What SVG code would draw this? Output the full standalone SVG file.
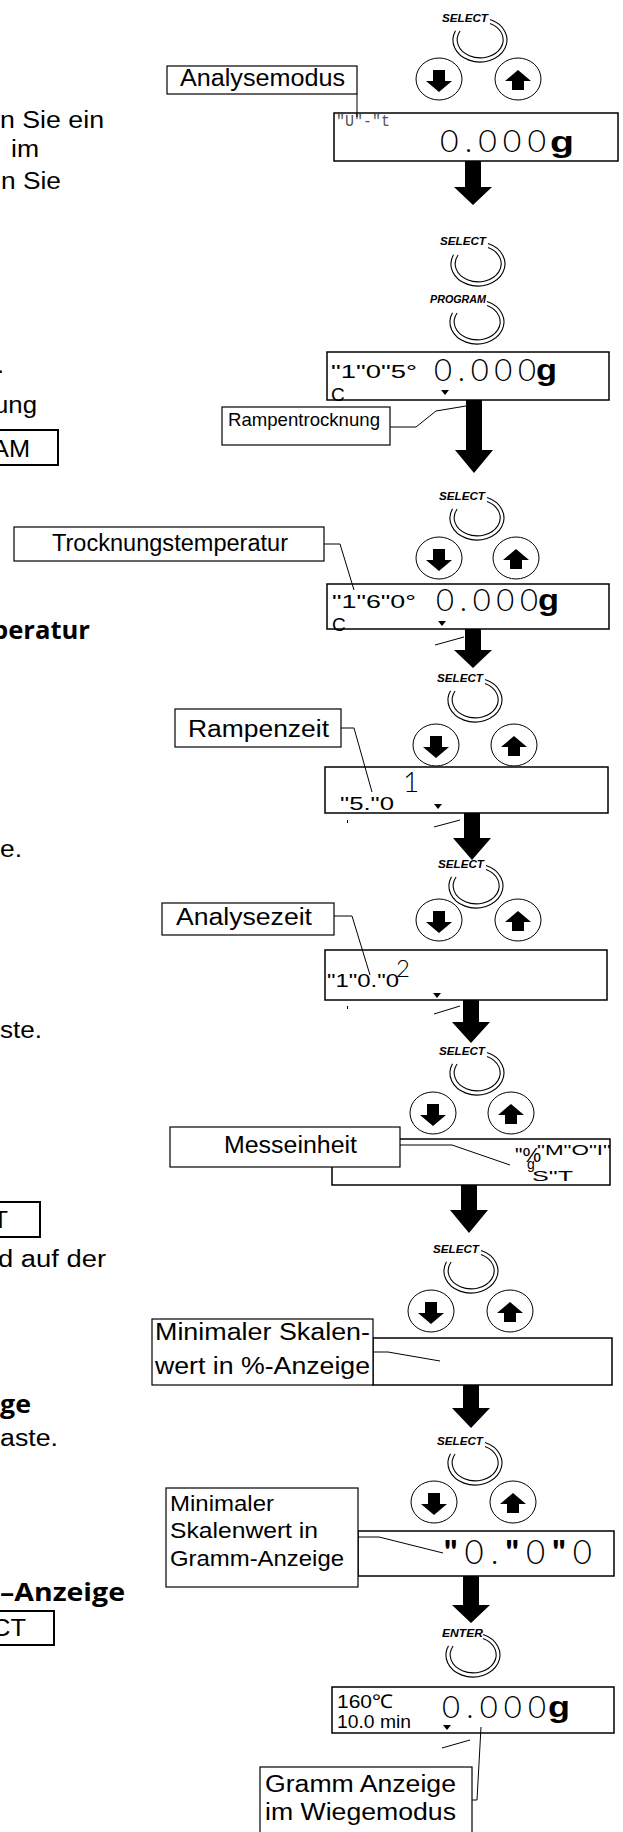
<svg xmlns="http://www.w3.org/2000/svg" xmlns:xlink="http://www.w3.org/1999/xlink" width="623" height="1832" viewBox="0 0 623 1832">
<style>
.t{font-family:"Liberation Sans",Arial,sans-serif;font-size:23px;fill:#000}
.l{font-family:"Liberation Sans",Arial,sans-serif;font-size:23px;fill:#000}
.hb{font-family:"Open Sans","Noto Sans",sans-serif;font-weight:700;font-size:25px;fill:#000}
.key{font-family:"Liberation Sans",Arial,sans-serif;font-size:10px;font-weight:700;font-style:italic;fill:#000}
.dig{font-family:Lato,"Liberation Sans",sans-serif;font-weight:300;fill:#000}
.mono{font-family:"Liberation Mono","Courier New",monospace;fill:#000}
.ds{font-family:"Liberation Sans",Arial,sans-serif;font-size:19px;fill:#000}
.gb{font-family:"Liberation Sans",Arial,sans-serif;font-weight:700;font-size:29px;fill:#000}
.box{fill:#fff;stroke:#000;stroke-width:1.2}
.disp{fill:#fff;stroke:#000;stroke-width:1.5}
.ln{fill:none;stroke:#000;stroke-width:1}
.ring{fill:none;stroke:#000;stroke-width:1.1}
.btn{fill:#fff;stroke:#000;stroke-width:1}
.lb{fill:none;stroke:#000;stroke-width:2}
.big{fill:#000}
</style>
<defs>
<g id="ring">
<path class="ring" d="M10,-20.4 A27,22 0 1 1 -24.5,-9.3"/>
<path class="ring" d="M10,-16.5 A23,18 0 1 1 -19.9,-9"/>
</g>
<g id="bdown"><ellipse rx="23" ry="21" class="btn"/><path d="M-6,-9H6V2H13L0,13L-13,2H-6Z"/></g>
<g id="bup"><ellipse rx="23" ry="21" class="btn"/><path d="M0,-9L13,2H6V11H-6V2H-13Z"/></g>
<path id="tri" d="M-4,0H4L0,5Z"/>
</defs>

<g id="left-text">
<text class="t" x="0" y="128" textLength="104" lengthAdjust="spacingAndGlyphs">n Sie ein</text>
<text class="t" x="11" y="157" textLength="28" lengthAdjust="spacingAndGlyphs">im</text>
<text class="t" x="1" y="189" textLength="60" lengthAdjust="spacingAndGlyphs">n Sie</text>
<text class="t" x="-3" y="373" textLength="7" lengthAdjust="spacingAndGlyphs">.</text>
<text class="t" x="-6" y="413" textLength="43" lengthAdjust="spacingAndGlyphs">ung</text>
<rect class="lb" x="-5" y="430" width="63" height="35"/>
<text class="t" x="-8" y="457" textLength="38" lengthAdjust="spacingAndGlyphs">AM</text>
<text class="hb" x="-8" y="639" textLength="98" lengthAdjust="spacingAndGlyphs">peratur</text>
<text class="t" x="0" y="857" textLength="22" lengthAdjust="spacingAndGlyphs">e.</text>
<text class="t" x="0" y="1038" textLength="42" lengthAdjust="spacingAndGlyphs">ste.</text>
<rect class="lb" x="-5" y="1202" width="45" height="35"/>
<text class="t" x="-7" y="1228" textLength="15" lengthAdjust="spacingAndGlyphs">T</text>
<text class="t" x="-2" y="1267" textLength="108" lengthAdjust="spacingAndGlyphs">d auf der</text>
<text class="hb" x="0" y="1413" textLength="31" lengthAdjust="spacingAndGlyphs">ge</text>
<text class="t" x="0" y="1446" textLength="58" lengthAdjust="spacingAndGlyphs">aste.</text>
<text class="hb" x="0" y="1601" textLength="125" lengthAdjust="spacingAndGlyphs">–Anzeige</text>
<rect class="lb" x="-5" y="1611" width="59" height="34"/>
<text class="t" x="-8" y="1636" textLength="34" lengthAdjust="spacingAndGlyphs">CT</text>
</g>

<g id="step1">
<text class="key" x="442" y="22" textLength="46" lengthAdjust="spacingAndGlyphs">SELECT</text>
<use xlink:href="#ring" x="480" y="40"/>
<use xlink:href="#bdown" x="439" y="79"/>
<use xlink:href="#bup" x="518" y="79"/>
<rect class="disp" x="334" y="113" width="284" height="48"/>
<text class="mono" x="336" y="126" font-size="17" style="fill:#555" textLength="54" lengthAdjust="spacingAndGlyphs">"U"-"t</text>
<text class="dig" x="440" y="152" font-size="32" textLength="106" lengthAdjust="spacing">0.000</text>
<text class="gb" x="550" y="152" font-size="30" textLength="24" lengthAdjust="spacingAndGlyphs">g</text>
<rect class="box" x="167" y="66" width="190" height="28"/>
<text class="l" x="180" y="86" textLength="165" lengthAdjust="spacingAndGlyphs">Analysemodus</text>
</g>

<g id="step2">
<text class="key" x="440" y="245" textLength="46" lengthAdjust="spacingAndGlyphs">SELECT</text>
<use xlink:href="#ring" x="478" y="264"/>
<text class="key" x="430" y="303" textLength="56" lengthAdjust="spacingAndGlyphs">PROGRAM</text>
<use xlink:href="#ring" x="477" y="322"/>
<rect class="disp" x="327" y="352" width="282" height="48"/>
<text class="ds" x="331" y="378" textLength="86" lengthAdjust="spacingAndGlyphs">"1"0"5°</text>
<text class="ds" x="331" y="401">C</text>
<text class="dig" x="434" y="381" font-size="31" textLength="102" lengthAdjust="spacing">0.000</text>
<text class="gb" x="536" y="380" textLength="21" lengthAdjust="spacingAndGlyphs">g</text>
<use xlink:href="#tri" x="445" y="390"/>
<rect class="box" x="222" y="407" width="168" height="38"/>
<text class="t" x="228" y="426" style="font-size:19px" textLength="152" lengthAdjust="spacingAndGlyphs">Rampentrocknung</text>
</g>

<g id="step3">
<text class="key" x="439" y="500" textLength="46" lengthAdjust="spacingAndGlyphs">SELECT</text>
<use xlink:href="#ring" x="477" y="518"/>
<use xlink:href="#bdown" x="439" y="558"/>
<use xlink:href="#bup" x="516" y="558"/>
<rect class="disp" x="327" y="584" width="282" height="45"/>
<text class="ds" x="332" y="608" textLength="84" lengthAdjust="spacingAndGlyphs">"1"6"0°</text>
<text class="ds" x="332" y="631">C</text>
<text class="dig" x="436" y="611" font-size="31" textLength="102" lengthAdjust="spacing">0.000</text>
<text class="gb" x="538" y="610" textLength="21" lengthAdjust="spacingAndGlyphs">g</text>
<use xlink:href="#tri" x="442" y="621"/>
<rect class="box" x="14" y="527" width="310" height="34"/>
<text class="l" x="52" y="551" textLength="236" lengthAdjust="spacingAndGlyphs">Trocknungstemperatur</text>
</g>

<g id="step4">
<text class="key" x="437" y="682" textLength="46" lengthAdjust="spacingAndGlyphs">SELECT</text>
<use xlink:href="#ring" x="475" y="700"/>
<use xlink:href="#bdown" x="436" y="745"/>
<use xlink:href="#bup" x="514" y="745"/>
<rect class="disp" x="325" y="767" width="283" height="46"/>
<text class="ds" x="340" y="810" textLength="54" lengthAdjust="spacingAndGlyphs">"5."0</text>
<text class="dig" x="403" y="792" font-size="28">1</text>
<use xlink:href="#tri" x="438" y="804"/>
<rect x="347" y="820" width="1" height="3"/>
<rect class="box" x="175" y="709" width="166" height="38"/>
<text class="l" x="188" y="737" textLength="141" lengthAdjust="spacingAndGlyphs">Rampenzeit</text>
</g>

<g id="step5">
<text class="key" x="438" y="868" textLength="46" lengthAdjust="spacingAndGlyphs">SELECT</text>
<use xlink:href="#ring" x="476" y="886"/>
<use xlink:href="#bdown" x="439" y="920"/>
<use xlink:href="#bup" x="518" y="920"/>
<rect class="disp" x="325" y="950" width="282" height="50"/>
<text class="ds" x="327" y="987" textLength="72" lengthAdjust="spacingAndGlyphs">"1"0."0</text>
<text class="dig" x="396" y="977" font-size="24">2</text>
<use xlink:href="#tri" x="437" y="993"/>
<rect x="347" y="1006" width="1" height="3"/>
<rect class="box" x="162" y="903" width="172" height="32"/>
<text class="l" x="176" y="925" textLength="136" lengthAdjust="spacingAndGlyphs">Analysezeit</text>
</g>

<g id="step6">
<text class="key" x="439" y="1055" textLength="46" lengthAdjust="spacingAndGlyphs">SELECT</text>
<use xlink:href="#ring" x="477" y="1073"/>
<use xlink:href="#bdown" x="433" y="1113"/>
<use xlink:href="#bup" x="511" y="1113"/>
<rect class="disp" x="332" y="1139" width="278" height="46"/>
<text class="t" x="515" y="1162" style="font-size:21px">"%</text>
<text class="ds" x="537" y="1155" style="font-size:15px" textLength="74" lengthAdjust="spacingAndGlyphs">"M"O"I"</text>
<text class="ds" x="527" y="1169" style="font-size:14px">g</text>
<text class="ds" x="532" y="1181" style="font-size:15px" textLength="41" lengthAdjust="spacingAndGlyphs">S"T</text>
<rect class="box" x="170" y="1127" width="230" height="40"/>
<text class="l" x="224" y="1153" textLength="133" lengthAdjust="spacingAndGlyphs">Messeinheit</text>
</g>

<g id="step7">
<text class="key" x="433" y="1253" textLength="46" lengthAdjust="spacingAndGlyphs">SELECT</text>
<use xlink:href="#ring" x="471" y="1271"/>
<use xlink:href="#bdown" x="431" y="1311"/>
<use xlink:href="#bup" x="510" y="1311"/>
<rect class="disp" x="373" y="1338" width="239" height="47"/>
<rect class="box" x="152" y="1319" width="221" height="66"/>
<text class="l" x="155" y="1340" textLength="215" lengthAdjust="spacingAndGlyphs">Minimaler Skalen-</text>
<text class="l" x="155" y="1374" textLength="215" lengthAdjust="spacingAndGlyphs">wert in %-Anzeige</text>
</g>

<g id="step8">
<text class="key" x="437" y="1445" textLength="46" lengthAdjust="spacingAndGlyphs">SELECT</text>
<use xlink:href="#ring" x="475" y="1463"/>
<use xlink:href="#bdown" x="434" y="1502"/>
<use xlink:href="#bup" x="513" y="1502"/>
<rect class="disp" x="358" y="1531" width="256" height="45"/>
<text class="dig" x="444" y="1564" font-size="33" textLength="148" lengthAdjust="spacing"><tspan font-weight="900">"</tspan>0.<tspan font-weight="900">"</tspan>0<tspan font-weight="900">"</tspan>0</text>
<rect class="box" x="166" y="1488" width="192" height="99"/>
<text class="t" x="170" y="1511" style="font-size:22px" textLength="104" lengthAdjust="spacingAndGlyphs">Minimaler</text>
<text class="t" x="170" y="1538" style="font-size:22px" textLength="148" lengthAdjust="spacingAndGlyphs">Skalenwert in</text>
<text class="t" x="170" y="1566" style="font-size:22px" textLength="174" lengthAdjust="spacingAndGlyphs">Gramm-Anzeige</text>
</g>

<g id="step9">
<text class="key" x="442" y="1637" textLength="41" lengthAdjust="spacingAndGlyphs">ENTER</text>
<use xlink:href="#ring" x="473" y="1655"/>
<rect class="disp" x="332" y="1687" width="282" height="46"/>
<text class="ds" x="337" y="1708" textLength="56" lengthAdjust="spacingAndGlyphs">160℃</text>
<text class="ds" x="337" y="1728" textLength="74" lengthAdjust="spacingAndGlyphs">10.0 min</text>
<text class="dig" x="442" y="1718" font-size="31" textLength="104" lengthAdjust="spacing">0.000</text>
<text class="gb" x="548" y="1717" textLength="22" lengthAdjust="spacingAndGlyphs">g</text>
<use xlink:href="#tri" x="447" y="1725"/>
<rect class="box" x="260" y="1767" width="212" height="75"/>
<text class="l" x="265" y="1792" textLength="191" lengthAdjust="spacingAndGlyphs">Gramm Anzeige</text>
<text class="l" x="265" y="1820" textLength="191" lengthAdjust="spacingAndGlyphs">im Wiegemodus</text>
</g>

<g id="connectors">
<path class="big" d="M465 161H481V187H492L473 205L454 187H465Z"/>
<path class="big" d="M466 400H482V450H493L474 473L455 450H466Z"/>
<path class="big" d="M465 629H481V650H492L473 668L454 650H465Z"/>
<path class="big" d="M464 813H480V838H491L472 860L453 838H464Z"/>
<path class="big" d="M463 1000H479V1022H490L471 1043L452 1022H463Z"/>
<path class="big" d="M461 1185H477V1210H488L469 1233L450 1210H461Z"/>
<path class="big" d="M463 1385H479V1408H490L471 1428L452 1408H463Z"/>
<path class="big" d="M463 1576H479V1605H490L471 1623L452 1605H463Z"/>
<path class="ln" d="M357 94V117"/>
<path class="ln" d="M390 427H416L436 411L466 406"/>
<path class="ln" d="M324 544H340L354 590"/>
<path class="ln" d="M464 637L435 645"/>
<path class="ln" d="M341 728H354L372 792"/>
<path class="ln" d="M460 820L434 827"/>
<path class="ln" d="M334 916H352L370 975"/>
<path class="ln" d="M460 1006L434 1014"/>
<path class="ln" d="M400 1145H452L510 1165"/>
<path class="ln" d="M373 1352H388L440 1361"/>
<path class="ln" d="M358 1537H379L443 1553"/>
<path class="ln" d="M470 1740L442 1748"/>
<path class="ln" d="M472 1800H477L481 1727"/>
</g>
</svg>
